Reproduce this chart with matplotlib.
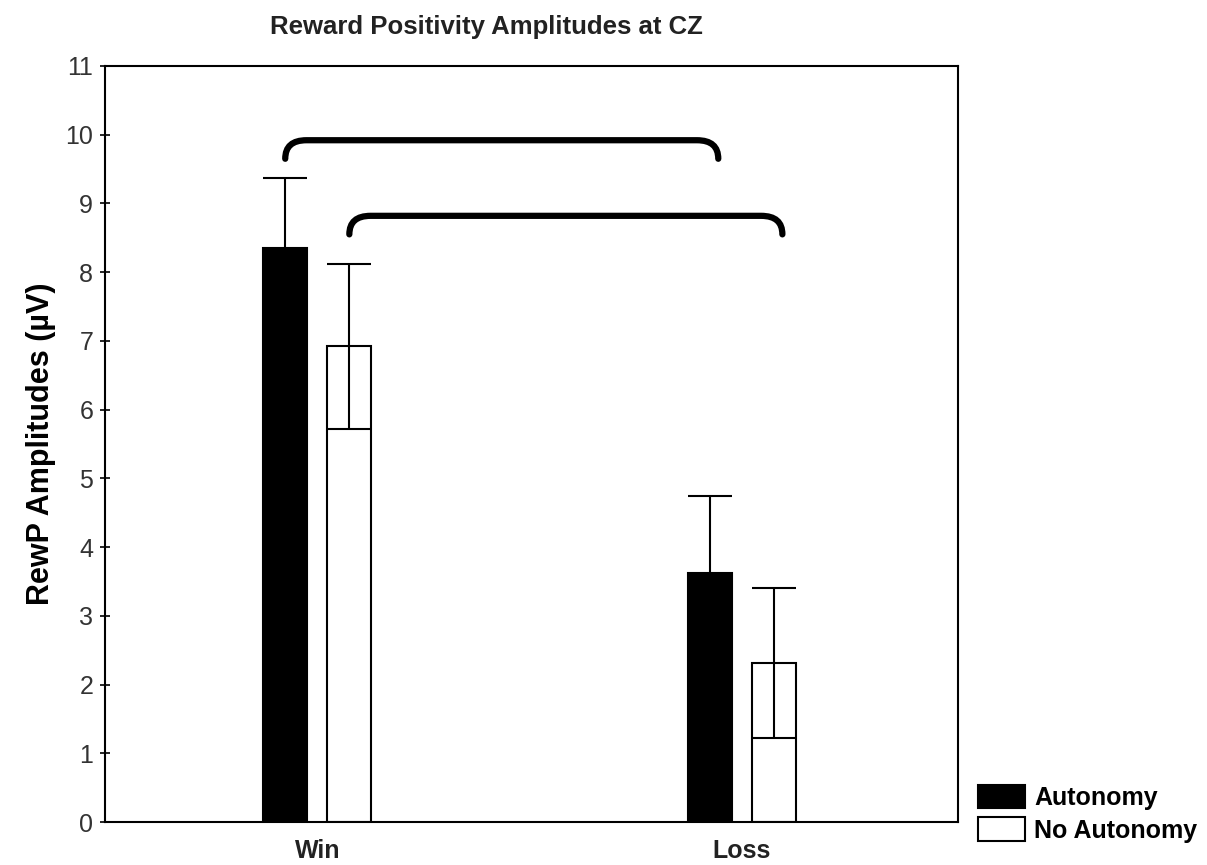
import numpy as np
import matplotlib.pyplot as plt
from matplotlib.path import Path
from matplotlib.patches import PathPatch

plt.rcParams['font.family'] = ['Liberation Sans', 'DejaVu Sans']

# Data
conditions = ['Win', 'Loss']
groups = ['Autonomy', 'No Autonomy']
autonomy_mean = [8.35, 3.62]
autonomy_err = [1.02, 1.13]
no_autonomy_mean = [6.92, 2.31]
no_autonomy_err = [1.20, 1.09]

# height of the horizontal part of each bracket (Autonomy, No Autonomy)
bracket_levels = [9.92, 8.82]

fig = plt.figure(figsize=(12.07, 8.65), dpi=100)
ax = fig.add_axes([0.087, 0.0497, 0.707, 0.874])

x = np.arange(len(conditions))
width = 0.104
offset = 0.0755

ax.bar(x - offset, autonomy_mean, width, color='black', edgecolor='black',
       linewidth=1.5, label=groups[0], zorder=2)
ax.bar(x + offset, no_autonomy_mean, width, color='white', edgecolor='black',
       linewidth=1.5, label=groups[1], zorder=2)
ax.errorbar(x - offset, autonomy_mean, yerr=autonomy_err, fmt='none',
            ecolor='black', elinewidth=1.5, capsize=15.5, capthick=1.5, zorder=3)
ax.errorbar(x + offset, no_autonomy_mean, yerr=no_autonomy_err, fmt='none',
            ecolor='black', elinewidth=1.5, capsize=15.5, capthick=1.5, zorder=3)

# significance brackets (Win vs Loss within each group)
for off, lvl in zip([-offset, offset], bracket_levels):
    x0 = x[0] + off
    x1 = x[1] + off + 0.02
    yb = lvl - 0.27
    dx = 0.05
    verts = [(x0, yb), (x0, lvl), (x0 + dx, lvl), (x1 - dx, lvl),
             (x1, lvl), (x1, yb)]
    codes = [Path.MOVETO, Path.CURVE3, Path.CURVE3, Path.LINETO,
             Path.CURVE3, Path.CURVE3]
    ax.add_patch(PathPatch(Path(verts, codes), fill=False, lw=4.5,
                           capstyle='round', color='black', zorder=4))

ax.set_xlim(-0.5, 1.51)
ax.set_ylim(0, 11)
ax.set_yticks(range(0, 12))
ax.set_xticks(x)
ax.set_xticklabels(conditions, fontsize=18, fontweight='bold', color='#222222')
ax.tick_params(axis='x', length=0, pad=12)
ax.tick_params(axis='y', direction='inout', length=7, width=1.2,
               labelsize=18, color='black', labelcolor='#333333', pad=5)
for s in ax.spines.values():
    s.set_linewidth(1.5)

ax.set_ylabel('RewP Amplitudes (µV)', fontsize=22, fontweight='bold',
              labelpad=7)
fig.text(0.403, 0.969, 'Reward Positivity Amplitudes at CZ', fontsize=18.5,
         fontweight='bold', color='#222222', ha='center', va='center')

fig.legend(loc='lower left', bbox_to_anchor=(0.81, 0.026), frameon=False,
           prop={'size': 18, 'weight': 'bold'}, handlelength=1.9,
           handleheight=1.05, handletextpad=0.36, labelspacing=0.28,
           borderpad=0, borderaxespad=0)

fig.savefig('out.png', dpi=100)
